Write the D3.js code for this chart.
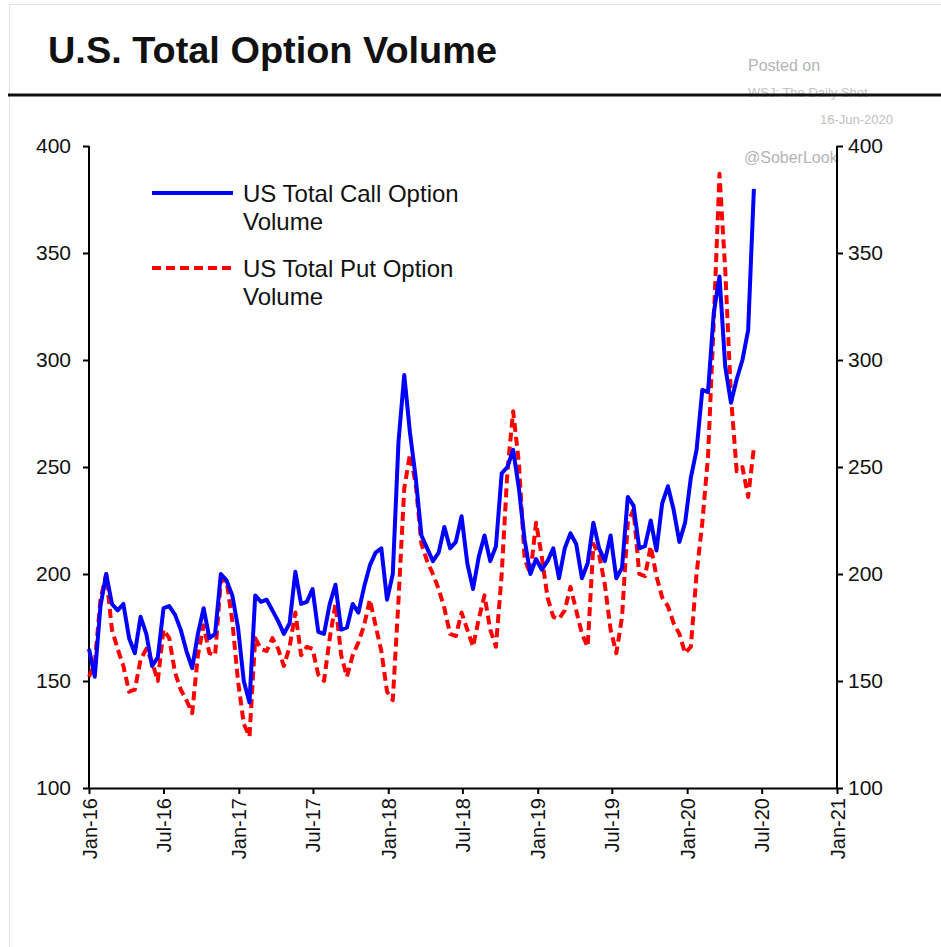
<!DOCTYPE html>
<html>
<head>
<meta charset="utf-8">
<script src="https://cdn.jsdelivr.net/npm/d3@7"></script>
<style>
  html, body { margin: 0; padding: 0; background: #fff; }
  svg { display: block; font-family: "Liberation Sans", Arial, sans-serif; }
</style>
</head>
<body>
<div id="chart"></div>
<script>
const dates = [
  "2016-01-01","2016-01-15","2016-01-29","2016-02-12","2016-02-26","2016-03-11","2016-03-25","2016-04-08","2016-04-22","2016-05-06",
  "2016-05-20","2016-06-03","2016-06-17","2016-07-01","2016-07-15","2016-07-29","2016-08-12","2016-08-26","2016-09-09","2016-09-23",
  "2016-10-07","2016-10-21","2016-11-04","2016-11-18","2016-12-02","2016-12-16","2016-12-30","2017-01-13","2017-01-27","2017-02-10",
  "2017-02-24","2017-03-10","2017-03-24","2017-04-07","2017-04-21","2017-05-05","2017-05-19","2017-06-02","2017-06-16","2017-06-30",
  "2017-07-14","2017-07-28","2017-08-11","2017-08-25","2017-09-08","2017-09-22","2017-10-06","2017-10-20","2017-11-03","2017-11-17",
  "2017-12-01","2017-12-15","2017-12-29","2018-01-12","2018-01-26","2018-02-09","2018-02-23","2018-03-09","2018-03-23","2018-04-06",
  "2018-04-20","2018-05-04","2018-05-18","2018-06-01","2018-06-15","2018-06-29","2018-07-13","2018-07-27","2018-08-10","2018-08-24",
  "2018-09-07","2018-09-21","2018-10-05","2018-10-19","2018-11-02","2018-11-16","2018-11-30","2018-12-14","2018-12-28","2019-01-11",
  "2019-01-25","2019-02-08","2019-02-22","2019-03-08","2019-03-22","2019-04-05","2019-04-19","2019-05-03","2019-05-17","2019-05-31",
  "2019-06-14","2019-06-28","2019-07-12","2019-07-26","2019-08-09","2019-08-23","2019-09-06","2019-09-20","2019-10-04","2019-10-18",
  "2019-11-01","2019-11-15","2019-11-29","2019-12-13","2019-12-27","2020-01-10","2020-01-24","2020-02-07","2020-02-21","2020-03-06",
  "2020-03-20","2020-04-03","2020-04-17","2020-05-01","2020-05-15","2020-05-29","2020-06-12"
]

const callVolume = [
  165,152,185,200,186,183,186,170,163,180,
  172,157,161,184,185,181,174,164,156,172,
  184,170,172,200,197,190,175,150,140,190,
  187,188,183,178,172,177,201,186,187,193,
  173,172,186,195,174,175,186,182,194,204,
  210,212,188,200,262,293,266,245,218,212,
  206,210,222,212,215,227,205,193,208,218,
  206,213,247,250,258,240,216,200,207,202,
  206,212,198,212,219,214,198,205,224,212,
  206,218,198,203,236,232,212,213,225,211,
  233,241,230,215,224,245,258,286,285,322,
  339,297,280,291,300,314,380
]

const putVolume = [
  152,158,188,200,174,165,157,145,146,160,
  165,159,150,174,170,154,146,141,135,162,
  176,163,162,197,197,178,150,130,124,170,
  165,164,170,165,157,166,182,162,166,165,
  153,150,170,186,162,152,162,168,176,188,
  176,164,145,141,188,240,256,242,214,206,
  200,193,184,172,171,182,174,166,179,190,
  174,166,200,248,276,252,207,200,224,208,
  189,180,179,183,194,183,172,166,214,209,
  195,174,163,180,224,230,200,199,213,199,
  189,185,177,172,163,166,200,224,255,318,
  387,342,283,248,250,236,259
]

const yTicks = [100, 150, 200, 250, 300, 350, 400]
const xTickDates = ["2016-01-01","2016-07-01","2017-01-01","2017-07-01","2018-01-01","2018-07-01",
  "2019-01-01","2019-07-01","2020-01-01","2020-07-01","2021-01-01"]

const legendItems = [
  {lines: ["US Total Call Option", "Volume"], color: "#0000ff", dash: null},
  {lines: ["US Total Put Option", "Volume"], color: "#ff0000", dash: "9,5"}
]

const width = 941
const height = 947
const margin = {top: 146, right: 104, bottom: 159, left: 89}

const parse = d3.timeParse("%Y-%m-%d")
const fmt = d3.timeFormat("%b-%y")

const callData = dates.map((d, i) => ({date: parse(d), value: callVolume[i]}))
const putData = dates.map((d, i) => ({date: parse(d), value: putVolume[i]}))

const svg = d3.select("#chart").append("svg")
  .attr("width", width)
  .attr("height", height)

// faint frame of the original screenshot
svg.append("rect")
  .attr("x", 9.5).attr("y", 4.5)
  .attr("width", width).attr("height", height)
  .attr("fill", "none")
  .attr("stroke", "#e2e2e2")

svg.append("text")
  .attr("x", 48).attr("y", 63)
  .attr("font-size", 36)
  .attr("font-weight", "bold")
  .attr("fill", "#111")
  .attr("textLength", 449)
  .attr("lengthAdjust", "spacingAndGlyphs")
  .text("U.S. Total Option Volume")

// watermark
const wm = svg.append("g").attr("fill", "#b4b4b4")
wm.append("text").attr("x", 748).attr("y", 71).attr("font-size", 16).text("Posted on")
wm.append("text").attr("x", 748).attr("y", 97).attr("font-size", 13).attr("fill", "#c4c4c4").text("WSJ: The Daily Shot")
wm.append("text").attr("x", 893).attr("y", 124).attr("font-size", 13).attr("text-anchor", "end").attr("fill", "#c0c0c0").text("16-Jun-2020")
wm.append("text").attr("x", 744).attr("y", 163).attr("font-size", 16).text("@SoberLook")

svg.append("line")
  .attr("x1", 8).attr("x2", width)
  .attr("y1", 95).attr("y2", 95)
  .attr("stroke", "#111")
  .attr("stroke-width", 3)

const x = d3.scaleTime()
  .domain([parse("2016-01-01"), parse("2021-01-01")])
  .range([margin.left, width - margin.right])

const y = d3.scaleLinear()
  .domain([100, 400])
  .range([height - margin.bottom, margin.top])

const axisFont = g => g.selectAll("text")
  .attr("font-family", "Liberation Sans, Arial, sans-serif")
  .attr("fill", "#111")

svg.append("g")
  .attr("transform", `translate(${margin.left},0)`)
  .call(d3.axisLeft(y).tickValues(yTicks).tickSize(6).tickPadding(12))
  .call(g => g.selectAll("text").attr("font-size", 21))
  .call(axisFont)
  .call(g => g.select(".domain").attr("stroke-width", 2).attr("d", `M0,${y(400)}V${y(100)}`))
  .call(g => g.selectAll(".tick line").attr("stroke-width", 2))

svg.append("g")
  .attr("transform", `translate(${width - margin.right},0)`)
  .call(d3.axisRight(y).tickValues(yTicks).tickSize(6).tickPadding(5))
  .call(g => g.selectAll("text").attr("font-size", 21))
  .call(axisFont)
  .call(g => g.select(".domain").attr("stroke-width", 2).attr("d", `M0,${y(400)}V${y(100)}`))
  .call(g => g.selectAll(".tick line").attr("stroke-width", 2))

svg.append("g")
  .attr("transform", `translate(0,${height - margin.bottom})`)
  .call(d3.axisBottom(x).tickValues(xTickDates.map(parse)).tickFormat(fmt).tickSize(6).tickSizeOuter(0))
  .call(g => g.select(".domain").attr("stroke-width", 2))
  .call(g => g.selectAll(".tick line").attr("stroke-width", 2))
  .call(g => g.selectAll("text")
    .attr("font-size", 20)
    .attr("text-anchor", "end")
    .attr("dy", "0.35em")
    .attr("transform", "translate(0,10) rotate(-90)")
    .attr("x", 0).attr("y", 0))
  .call(axisFont)

const line = d3.line()
  .x(d => x(d.date))
  .y(d => y(d.value))

svg.append("path")
  .datum(putData)
  .attr("fill", "none")
  .attr("stroke", "#ff0000")
  .attr("stroke-width", 4)
  .attr("stroke-dasharray", "9,5")
  .attr("stroke-linejoin", "round")
  .attr("d", line)

svg.append("path")
  .datum(callData)
  .attr("fill", "none")
  .attr("stroke", "#0000ff")
  .attr("stroke-width", 4)
  .attr("stroke-linejoin", "round")
  .attr("d", line)

// legend
const legend = svg.append("g")
legendItems.forEach((item, i) => {
  const y0 = 193 + i * 75
  legend.append("line")
    .attr("x1", 152).attr("x2", 233)
    .attr("y1", y0).attr("y2", y0)
    .attr("stroke", item.color)
    .attr("stroke-width", 4)
    .attr("stroke-dasharray", item.dash)
  item.lines.forEach((t, j) => {
    legend.append("text")
      .attr("x", 243).attr("y", y0 + 9 + j * 28)
      .attr("font-size", 24)
      .attr("fill", "#111")
      .text(t)
  })
})
</script>
</body>
</html>
